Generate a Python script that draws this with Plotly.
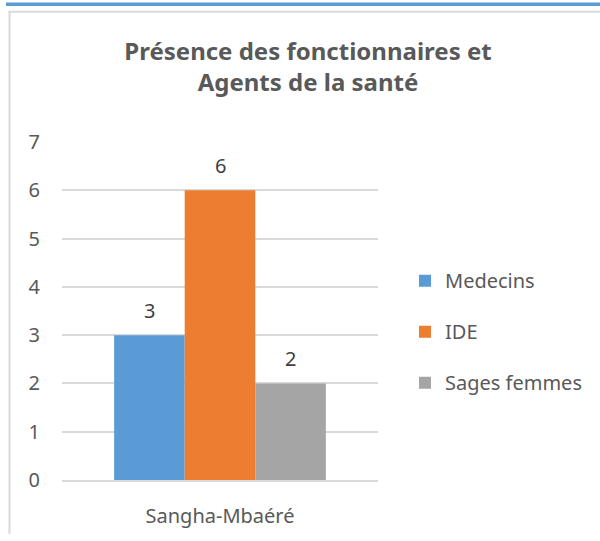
import plotly.graph_objects as go

categories = ["Sangha-Mbaéré"]
series_names = ["Medecins", "IDE", "Sages femmes"]
medecins = [3]
ide = [6]
sages_femmes = [2]
y_ticks = [0, 1, 2, 3, 4, 5, 6, 7]

colors = ["#5B9BD5", "#ED7D31", "#A5A5A5"]
values = [medecins, ide, sages_femmes]
font_family = "'Noto Sans', 'Open Sans', sans-serif"

W, H = 600, 541
L, R, T, B = 62, 222, 142, 55
pw, ph = W - L - R, H - T - B
BARGAP = 0.33

def px(x):
    return (x - L) / pw

def py(y):
    return (H - B - y) / ph

fig = go.Figure()
annotations = []
n = len(series_names)
bar_w = pw * (1 - BARGAP) / n
for i, (name, vals) in enumerate(zip(series_names, values)):
    fig.add_trace(go.Bar(
        x=categories, y=vals, name=name,
        marker=dict(color=colors[i], line=dict(width=0)),
        legendgroup=name,
    ))
    for c, v in zip(categories, vals):
        annotations.append(dict(
            x=c, y=v, xref="x", yref="y", text=str(v), showarrow=False,
            xshift=(i - (n - 1) / 2) * bar_w, yshift=25, yanchor="middle",
            font=dict(size=20, color="#404040", family=font_family),
        ))

fig.update_layout(
    width=W, height=H,
    margin=dict(l=L, r=R, t=T, b=B),
    paper_bgcolor="white", plot_bgcolor="white",
    barmode="group", bargap=BARGAP, bargroupgap=0,
    title=dict(text="<b>Présence des fonctionnaires et<br>Agents de la santé</b>",
               x=px(308), xref="paper", xanchor="center",
               y=1 - 60 / H, yanchor="middle",
               font=dict(size=24, color="#595959", family=font_family)),
    font=dict(family=font_family, color="#595959"),
    showlegend=True,
    legend=dict(x=px(405), y=py(335), xanchor="left", yanchor="middle",
                traceorder="grouped", tracegroupgap=22,
                font=dict(size=20, color="#595959", family=font_family),
                bgcolor="rgba(0,0,0,0)"),
    xaxis=dict(showgrid=False, showline=True, linecolor="#D9D9D9", linewidth=1.5,
               ticks="", ticklabelstandoff=17,
               tickfont=dict(size=20, color="#595959")),
    yaxis=dict(range=[0, 7], tickvals=y_ticks, showgrid=True, gridcolor="#D9D9D9",
               gridwidth=1.5, zeroline=False, showline=False, ticks="",
               ticklabelstandoff=21,
               tickfont=dict(size=20, color="#595959")),
    annotations=annotations,
    shapes=[
        dict(type="rect", xref="paper", yref="paper",
             x0=px(6), x1=px(600), y0=py(3.5), y1=py(0),
             fillcolor="#5B9BD5", line=dict(width=0), layer="above"),
        dict(type="line", xref="paper", yref="paper",
             x0=px(8.5), x1=px(600), y0=py(9.5), y1=py(9.5),
             line=dict(color="#D9D9D9", width=2)),
        dict(type="line", xref="paper", yref="paper",
             x0=px(9.5), x1=px(9.5), y0=py(9.5), y1=py(541),
             line=dict(color="#D9D9D9", width=2)),
    ],
)

fig.write_html(
    "out.html",
    config={"displayModeBar": False},
    post_script=(
        "document.documentElement.style.overflow='hidden';"
        "document.body.style.margin='0';"
        "document.body.style.overflow='hidden';"
        "window.scrollTo(0,0);"
    ),
)
